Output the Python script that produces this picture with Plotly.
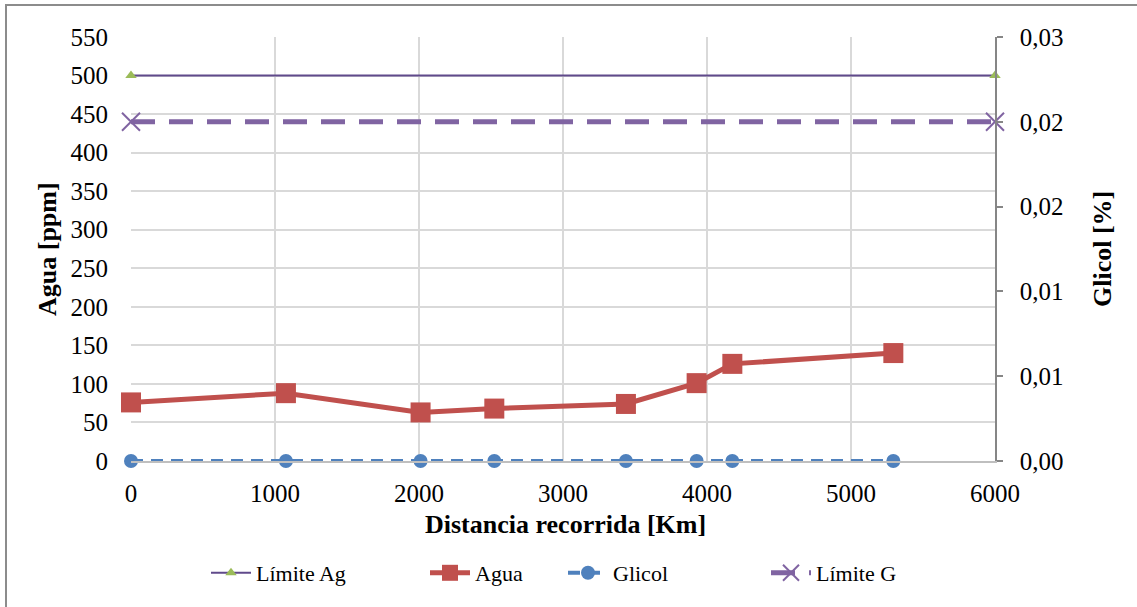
import plotly.graph_objects as go

# Distance travelled (km) at each sampling point
distancia = [0, 1076, 2011, 2523, 3437, 3928, 4176, 5294]
# Water content (ppm)
agua = [76, 88, 63, 68, 74, 101, 126, 140]
# Glycol content (%)
glicol = [0, 0, 0, 0, 0, 0, 0, 0]

# Limits
limite_x = [0, 6000]
limite_ag = [500, 500]
limite_g = [0.024, 0.024]

# Axis ticks
y2_tickvals = [0, 0.006, 0.012, 0.018, 0.024, 0.03]
y2_ticktext = ["0,00", "0,01", "0,01", "0,02", "0,02", "0,03"]
x_tickvals = [0, 1000, 2000, 3000, 4000, 5000, 6000]

FONT = "Liberation Serif"
GRID = "#d9d9d9"
TICK_SIZE = 25
TITLE_SIZE = 26
LEGEND_SIZE = 22

# plot area in pixels
L, R, T, B = 131, 995, 37, 461
PW, PH = R - L, B - T


def px(xpix):
    return (xpix - L) / PW


def py(ypix):
    return (B - ypix) / PH


fig = go.Figure()

fig.add_trace(go.Scatter(
    x=limite_x, y=limite_ag, name="Límite Ag", mode="lines+markers",
    line=dict(color="#604a8b", width=2),
    marker=dict(symbol="triangle-up", size=10, color="#9bbb59"),
    cliponaxis=False, legend="legend",
))
fig.add_trace(go.Scatter(
    x=distancia, y=agua, name="Agua", mode="lines+markers",
    line=dict(color="#c0504d", width=5),
    marker=dict(symbol="square", size=20, color="#c0504d"),
    cliponaxis=False, legend="legend2",
))
fig.add_trace(go.Scatter(
    x=distancia, y=glicol, name="Glicol", mode="lines+markers", yaxis="y2",
    line=dict(color="#4f81bd", width=4, dash="12px,8px"),
    marker=dict(symbol="circle", size=14, color="#4f81bd"),
    cliponaxis=False, legend="legend3",
))
fig.add_trace(go.Scatter(
    x=limite_x, y=limite_g, name="Límite G", mode="lines+markers", yaxis="y2",
    line=dict(color="#8064a2", width=5, dash="24px,14px"),
    marker=dict(symbol="x-thin", size=18, color="#8064a2",
                line=dict(color="#8064a2", width=2)),
    cliponaxis=False, legend="legend4",
))


def legend_at(xpix):
    return dict(
        orientation="h", x=px(xpix), y=py(573), xanchor="left",
        yanchor="middle", font=dict(family=FONT, size=LEGEND_SIZE),
        itemwidth=40, bgcolor="rgba(0,0,0,0)", borderwidth=0,
    )


fig.update_layout(
    width=1137, height=607,
    margin=dict(l=L, r=1137 - R, t=T, b=607 - B),
    paper_bgcolor="white", plot_bgcolor="white",
    font=dict(family=FONT, size=TICK_SIZE, color="black"),
    showlegend=True,
    legend=legend_at(206),
    legend2=legend_at(425),
    legend3=legend_at(563),
    legend4=legend_at(766),
    xaxis=dict(
        range=[0, 6000], tickvals=x_tickvals, showgrid=True, gridcolor=GRID,
        gridwidth=1.5, zeroline=False, showline=True, linecolor="#bfbfbf",
        linewidth=1.5, ticks="", ticklabelstandoff=9,
        tickfont=dict(family=FONT, size=TICK_SIZE),
    ),
    yaxis=dict(
        range=[0, 550], dtick=50, showgrid=True, gridcolor=GRID, gridwidth=1.5,
        zeroline=False, showline=False, ticks="", ticklabelstandoff=22,
        tickfont=dict(family=FONT, size=TICK_SIZE),
    ),
    yaxis2=dict(
        range=[0, 0.03], overlaying="y", side="right", tickvals=y2_tickvals,
        ticktext=y2_ticktext, showgrid=False, zeroline=False, showline=True,
        linecolor="#868686", linewidth=1.5, ticks="outside", ticklen=6,
        tickcolor="#868686", tickwidth=1.5, ticklabelstandoff=12,
        tickfont=dict(family=FONT, size=TICK_SIZE),
    ),
    annotations=[
        dict(text="<b>Distancia recorrida [Km]</b>", xref="paper", yref="paper",
             x=px(565), y=py(524), xanchor="center", yanchor="middle",
             showarrow=False, font=dict(family=FONT, size=TITLE_SIZE)),
        dict(text="<b>Agua [ppm]</b>", xref="paper", yref="paper",
             x=px(47), y=py(249), xanchor="center",
             yanchor="middle", textangle=-90, showarrow=False,
             font=dict(family=FONT, size=TITLE_SIZE)),
        dict(text="<b>Glicol [%]</b>", xref="paper", yref="paper",
             x=px(1102), y=py(249), xanchor="center",
             yanchor="middle", textangle=-90, showarrow=False,
             font=dict(family=FONT, size=TITLE_SIZE)),
    ],
    shapes=[
        dict(type="rect", xref="paper", yref="paper",
             x0=px(6), x1=1.3, y0=-0.5, y1=py(5),
             line=dict(color="#8c8c8c", width=2), fillcolor="rgba(0,0,0,0)",
             layer="below"),
    ],
)

fig.write_html("out.html")
